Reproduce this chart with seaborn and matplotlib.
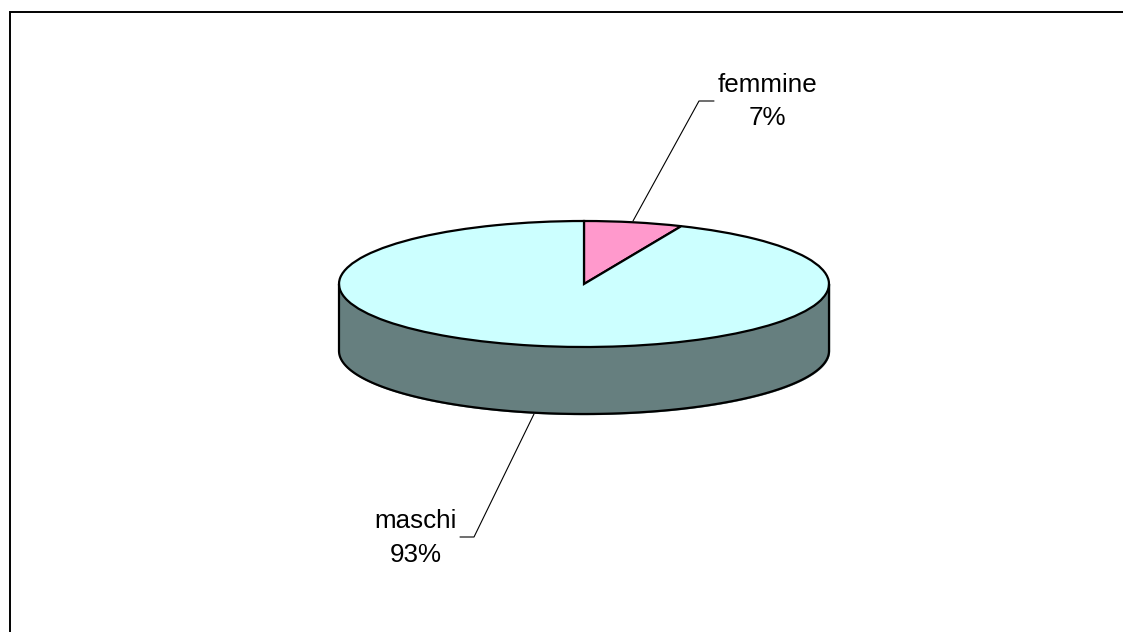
import numpy as np
import matplotlib
matplotlib.use("Agg")
import matplotlib.pyplot as plt
import seaborn as sns

labels = ["femmine", "maschi"]
percent_labels = ["7%", "93%"]
shares = [6.5, 93.5]
top_colors = ["#FF99CC", "#CCFFFF"]
wall_color = "#667F7F"

W, H = 1123, 632
cx, cy = 584, 284      # ellipse centre, px
rx, ry = 245, 63
depth = 67 / ry        # wall height in pie radii

sns.set_theme(style="white")
plt.rcParams["font.family"] = ["Liberation Sans", "DejaVu Sans"]

fig = plt.figure(figsize=(W / 100, H / 100), dpi=100, facecolor="white")

# frame and leader lines, in pixel coords
bg = fig.add_axes([0, 0, 1, 1])
bg.set_xlim(0, W)
bg.set_ylim(H, 0)
bg.axis("off")
bg.plot([9.5, 9.5, W], [H, 11.5, 11.5], color="black", lw=1.4, solid_joinstyle="miter")

# pie axes sized so that radius 1 is the ellipse
ax = fig.add_axes([(cx - rx) / W, 1 - (cy + ry) / H, 2 * rx / W, 2 * ry / H])
ax.patch.set_alpha(0)
ax.pie(shares, colors=top_colors, startangle=90, counterclock=False,
       wedgeprops=dict(edgecolor="black", linewidth=1.6), radius=1)
ax.set_aspect("auto")
ax.set_xlim(-1, 1)
ax.set_ylim(-1, 1)

# side wall of the disc
t = np.linspace(np.pi, 2 * np.pi, 120)
ax.fill_between(np.cos(t), np.sin(t), np.sin(t) - depth, color=wall_color, zorder=0.5, clip_on=False)
ax.plot(np.cos(t), np.sin(t) - depth, color="black", lw=1.6, clip_on=False)
ax.plot([-1, -1], [0, -depth], color="black", lw=1.6, clip_on=False)
ax.plot([1, 1], [0, -depth], color="black", lw=1.6, clip_on=False)
for p in ax.patches:
    p.set_clip_on(False)

# labels with leaders
bg.plot([633, 699, 714], [221, 101, 101], color="black", lw=0.8)
bg.plot([534, 474, 460], [414, 537, 537], color="black", lw=0.8)
bg.text(767, 101.5, f"{labels[0]}\n{percent_labels[0]}", ha="center", va="center",
        fontsize=18.7, color="black", linespacing=1.48)
bg.text(416, 538, f"{labels[1]}\n{percent_labels[1]}", ha="center", va="center",
        fontsize=18.7, color="black", linespacing=1.48)

fig.savefig("out.png", dpi=100)
